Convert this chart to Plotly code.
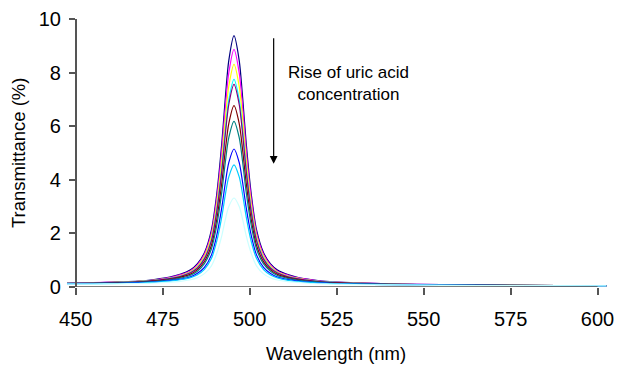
import plotly.graph_objects as go

# Wavelength grid (nm)
wavelength = [447.5, 455, 462, 468, 473, 477, 480, 483, 485, 487, 489, 490.5, 492, 493, 494, 495.5,
              497, 498, 499, 500.5, 502, 504, 506, 508, 511, 514, 518, 523, 530, 540, 555, 575, 602.5]

# Transmittance (%) series, highest peak (lowest uric acid) first
t_navy = [0.15, 0.16, 0.19, 0.22, 0.29, 0.37, 0.47, 0.64, 0.87, 1.28, 2.12, 3.42, 5.38, 7.05, 8.45, 9.38,
          8.45, 7.05, 5.38, 3.42, 2.12, 1.28, 0.86, 0.63, 0.46, 0.35, 0.27, 0.20, 0.16, 0.12, 0.09, 0.06, 0.04]
t_magenta = [0.14, 0.16, 0.18, 0.21, 0.27, 0.35, 0.45, 0.60, 0.82, 1.22, 2.01, 3.24, 5.09, 6.67, 7.99, 8.87,
             7.99, 6.67, 5.09, 3.24, 2.00, 1.21, 0.82, 0.59, 0.44, 0.34, 0.26, 0.19, 0.15, 0.12, 0.09, 0.06, 0.04]
t_yellow = [0.14, 0.15, 0.18, 0.21, 0.26, 0.33, 0.42, 0.57, 0.78, 1.15, 1.89, 3.04, 4.77, 6.25, 7.49, 8.31,
            7.49, 6.25, 4.77, 3.03, 1.88, 1.14, 0.77, 0.56, 0.41, 0.32, 0.24, 0.18, 0.15, 0.11, 0.08, 0.06, 0.04]
t_cyan = [0.14, 0.15, 0.17, 0.20, 0.25, 0.32, 0.40, 0.54, 0.73, 1.07, 1.76, 2.84, 4.45, 5.83, 6.98, 7.75,
          6.98, 5.83, 4.45, 2.83, 1.76, 1.07, 0.72, 0.53, 0.39, 0.30, 0.23, 0.18, 0.14, 0.11, 0.08, 0.06, 0.04]
t_purple = [0.14, 0.15, 0.17, 0.19, 0.25, 0.31, 0.39, 0.53, 0.71, 1.05, 1.72, 2.77, 4.34, 5.69, 6.81, 7.56,
            6.81, 5.69, 4.34, 2.76, 1.72, 1.04, 0.70, 0.52, 0.38, 0.30, 0.23, 0.17, 0.14, 0.11, 0.08, 0.06, 0.04]
t_darkred = [0.13, 0.14, 0.16, 0.18, 0.23, 0.29, 0.36, 0.48, 0.65, 0.95, 1.55, 2.48, 3.89, 5.10, 6.10, 6.77,
             6.10, 5.09, 3.89, 2.48, 1.54, 0.94, 0.64, 0.47, 0.35, 0.27, 0.21, 0.16, 0.13, 0.10, 0.08, 0.06, 0.04]
t_teal = [0.13, 0.14, 0.15, 0.17, 0.21, 0.27, 0.33, 0.44, 0.59, 0.87, 1.42, 2.27, 3.55, 4.65, 5.57, 6.18,
          5.57, 4.65, 3.55, 2.27, 1.41, 0.86, 0.59, 0.43, 0.32, 0.25, 0.20, 0.15, 0.12, 0.10, 0.07, 0.06, 0.04]
t_blue = [0.12, 0.13, 0.14, 0.16, 0.19, 0.24, 0.29, 0.38, 0.51, 0.73, 1.19, 1.90, 2.97, 3.88, 4.64, 5.15,
          4.64, 3.88, 2.97, 1.90, 1.19, 0.73, 0.50, 0.37, 0.28, 0.22, 0.17, 0.14, 0.11, 0.09, 0.07, 0.05, 0.04]
t_sky = [0.12, 0.12, 0.13, 0.15, 0.18, 0.22, 0.27, 0.35, 0.46, 0.66, 1.06, 1.69, 2.63, 3.44, 4.11, 4.56,
         4.11, 3.44, 2.63, 1.68, 1.06, 0.65, 0.45, 0.34, 0.25, 0.20, 0.16, 0.13, 0.11, 0.09, 0.07, 0.05, 0.04]
t_pale = [0.11, 0.11, 0.12, 0.13, 0.15, 0.18, 0.21, 0.27, 0.35, 0.50, 0.79, 1.24, 1.92, 2.51, 3.00, 3.32,
          3.00, 2.51, 1.92, 1.24, 0.78, 0.49, 0.34, 0.26, 0.20, 0.17, 0.13, 0.11, 0.09, 0.08, 0.06, 0.05, 0.04]

series = [t_navy, t_magenta, t_yellow, t_cyan, t_purple, t_darkred, t_teal, t_blue, t_sky, t_pale]
colors = ["#000080", "#FF00FF", "#FFFF00", "#00FFFF", "#800080", "#800000", "#008080", "#0000FF",
          "#00CCFF", "#CCFFFF"]

x_ticks = [450, 475, 500, 525, 550, 575, 600]
y_ticks = [0, 2, 4, 6, 8, 10]

FONT = "Liberation Sans, Arial, sans-serif"
X0, X1 = 447.5, 603.0

fig = go.Figure()
for ys, c in zip(series, colors):
    fig.add_trace(go.Scatter(x=wavelength, y=ys, mode="lines",
                             line=dict(color=c, width=1.2, shape="spline", smoothing=0.8),
                             showlegend=False, hoverinfo="skip"))

ypos = (450 - X0) / (X1 - X0)

fig.update_layout(
    width=619, height=365,
    margin=dict(l=67, r=11, t=19, b=78),
    paper_bgcolor="white", plot_bgcolor="white",
    font=dict(family=FONT, size=18, color="black"),
    xaxis=dict(range=[X0, X1], tickvals=x_ticks, ticktext=[str(v) for v in x_ticks],
               automargin=False,
               showgrid=False, zeroline=False, showline=False,
               ticks="outside", ticklen=7, tickwidth=1.5, tickcolor="#555555",
               ticklabelstandoff=7, tickfont=dict(size=20)),
    yaxis=dict(range=[0, 10], tickvals=y_ticks, showgrid=False, zeroline=False,
               automargin=False,
               anchor="free", position=ypos, showline=True, linecolor="#555555", linewidth=1.5,
               ticks="outside", ticklen=6, tickwidth=1.5, tickcolor="#555555",
               ticklabelstandoff=4, tickfont=dict(size=20)),
)

# x-axis line spanning 450-600
fig.add_shape(type="line", xref="x", yref="y", x0=450, x1=600, y0=0, y1=0,
              line=dict(color="#555555", width=1.5), layer="above")

# arrow
fig.add_annotation(x=506.9, y=4.6, ax=506.9, ay=9.34, xref="x", yref="y", axref="x", ayref="y",
                   text="", showarrow=True, arrowhead=2, arrowsize=1.3, arrowwidth=1.2,
                   arrowcolor="black", standoff=0, startstandoff=0)
fig.add_annotation(x=528.3, y=7.61, xref="x", yref="y", text="Rise of uric acid<br>concentration",
                   showarrow=False, align="center", font=dict(size=17, family=FONT, color="black"))

# axis titles
fig.add_annotation(x=(18 - 67) / 541, y=0.5, xref="paper", yref="paper", text="Transmittance (%)",
                   textangle=-90, showarrow=False, xanchor="center", yanchor="middle",
                   font=dict(size=18.5, family=FONT, color="black"))
fig.add_annotation(x=(336 - 67) / 541, y=(287 - 353) / 268, xref="paper", yref="paper",
                   text="Wavelength (nm)", showarrow=False, xanchor="center", yanchor="middle",
                   font=dict(size=18.5, family=FONT, color="black"))

fig.write_html("out.html", config={"displayModeBar": False},
               post_script="document.body.style.margin='0';document.body.style.overflow='hidden';")
